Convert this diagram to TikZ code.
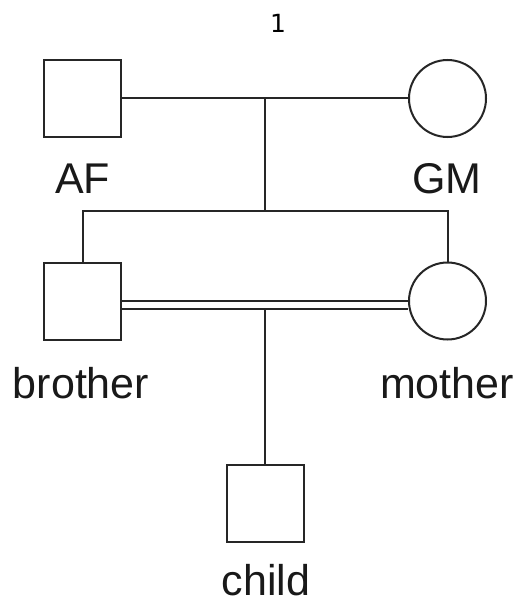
\documentclass[tikz,border=0pt]{standalone}
\usepackage{fontspec}
\setmainfont{Liberation Sans}
\newfontfamily\numfont{DejaVu Sans}
\begin{document}
\begin{tikzpicture}[x=1pt,y=-1pt,
  ln/.style={line width=2pt, draw=black!85},
  male/.style={ln, rectangle, minimum size=77pt, inner sep=0pt, fill=white},
  female/.style={ln, circle, minimum size=77pt, inner sep=0pt, fill=white},
  lbl/.style={anchor=base, inner sep=0pt, font=\fontsize{43}{50}\selectfont, text=black!90},
]
\useasboundingbox (0,0) rectangle (521,604);
\fill[white] (0,0) rectangle (521,604);

\node[anchor=base, inner sep=0pt, font=\numfont\fontsize{25}{30}\selectfont] (num) at (278,33) {1};

\node[male] (AF) at (82.5,98.5) {};
\node[female] (GM) at (447.5,98.5) {};
\node[male] (brother) at (82.5,301) {};
\node[female] (mother) at (447.5,301) {};
\node[male] (child) at (265,503) {};

\node[lbl] (lAF) at (82.5,193) {AF};
\node[lbl] (lGM) at (447,193) {GM};
\node[lbl] (lbrother) at (81,398) {brother};
\node[lbl] (lmother) at (447,398) {mother};
\node[lbl] (lchild) at (266,595) {child};

\coordinate (m1) at (265,98.5);
\coordinate (sib) at (265,211);
\coordinate (m2) at (265,308.5);

\draw[ln] (AF) -- (GM);
\draw[ln] (m1) -- (sib);
\draw[ln] (brother.north) |- (sib) -| (mother.north);
\draw[ln] ([yshift=0.5pt]brother.east) -- ([yshift=0.5pt]mother.west);
\draw[ln] ([yshift=-7.5pt]brother.east) -- ([yshift=-7.5pt]mother.west);
\draw[ln] (m2) -- (child.north);
\end{tikzpicture}
\end{document}
